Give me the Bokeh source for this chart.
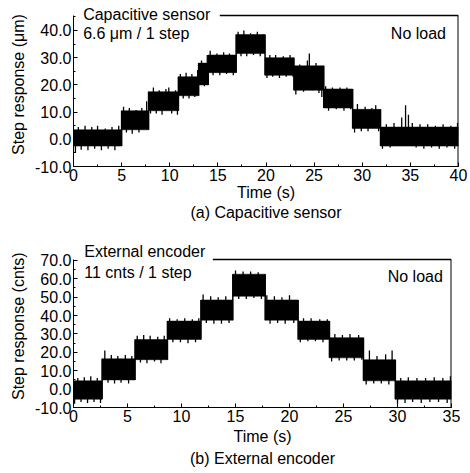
import numpy as np
from bokeh.plotting import figure
from bokeh.models import Label, Title, SingleIntervalTicker, PrintfTickFormatter, Range1d
from bokeh.layouts import column
from bokeh.embed import file_html
from bokeh.resources import INLINE

FONT = "Liberation Sans"

# ---------------- (a) Capacitive sensor ----------------
a_edges = [0, 5.0, 7.8, 10.9, 13.0, 14.0, 16.9, 19.9, 22.9, 26.0, 29.0, 31.9, 40]
a_lo = [-2.5, 3.5, 10.5, 16.0, 20.0, 24.5, 31.5, 23.5, 18.0, 11.5, 4.0, -2.5]
a_hi = [3.5, 10.5, 17.5, 23.0, 28.0, 31.0, 38.5, 30.0, 27.0, 18.5, 11.0, 4.5]
a_spike_t = [0.2, 0.5, 0.8, 1.2, 1.5, 1.9, 2.2, 2.5, 2.9, 3.3, 3.6, 4.0, 4.3, 4.7,
             5.2, 5.5, 5.8, 6.1, 6.5, 6.8, 7.1, 7.4, 7.6,
             8.0, 8.3, 8.6, 8.9, 9.2, 9.6, 9.9, 10.2, 10.6, 10.8,
             11.1, 11.4, 11.7, 12.0, 12.3, 12.6, 12.9, 13.3, 13.6, 13.9,
             14.2, 14.5, 14.9, 15.2, 15.6, 15.9, 16.2, 16.6,
             17.1, 17.4, 17.7, 18.0, 18.4, 18.7, 19.1, 19.4, 19.7,
             20.1, 20.4, 20.7, 21.0, 21.4, 21.8, 22.1, 22.5, 22.8,
             23.1, 23.5, 23.9, 24.3, 24.5, 24.8, 25.2, 25.5, 25.8,
             26.2, 26.5, 26.9, 27.3, 27.7, 28.1, 28.4, 28.8,
             29.2, 29.5, 29.9, 30.3, 30.6, 31.0, 31.4, 31.7,
             32.1, 32.5, 32.9, 33.3, 33.7, 34.1, 34.5, 34.8, 35.2, 35.6, 36.0, 36.4,
             36.8, 37.2, 37.6, 38.0, 38.4, 38.8, 39.2, 39.6, 39.9]
a_spike_y = [-5.0, 4.5, -3.8, 5.0, -4.0, 4.5, -3.5, 5.0, -4.0, 4.0, -3.5, 4.5, -4.0, 5.0,
             12.0, 2.5, 11.5, 2.0, 10.8, 2.5, 11.5, 4.0, 14.0,
             9.5, 19.0, 9.5, 18.0, 9.0, 18.5, 19.0, 9.5, 18.0, 9.0,
             24.0, 15.0, 24.5, 15.0, 24.0, 15.5, 25.5, 29.0, 19.5, 31.0,
             32.5, 23.5, 31.5, 23.5, 32.0, 24.0, 31.5, 23.5,
             39.5, 30.5, 40.0, 30.5, 39.0, 31.0, 39.5, 30.5, 38.5,
             22.5, 31.0, 23.0, 31.0, 22.5, 30.5, 23.0, 31.0, 23.0,
             16.5, 27.5, 17.5, 29.0, 31.5, 18.0, 28.0, 17.0, 15.5,
             19.5, 10.5, 19.0, 11.0, 19.0, 10.5, 19.0, 11.0,
             2.5, 13.0, 3.0, 12.0, 3.0, 11.5, 12.5, 3.0,
             -3.5, 5.5, -3.0, 6.0, -2.5, 8.0, 12.5, 9.0, 6.0, -3.0, 5.5, -3.5,
             5.5, -3.0, 5.0, -3.5, 5.5, -3.0, 5.0, -3.5, 6.0]

# ---------------- (b) External encoder ----------------
b_edges = [0, 2.65, 5.7, 8.7, 11.8, 14.75, 17.75, 20.8, 23.7, 26.85, 29.8, 35]
b_lo = [-5.5, 5.0, 16.0, 27.0, 37.5, 50.5, 37.5, 27.0, 17.0, 4.5, -5.5]
b_hi = [4.5, 16.5, 27.0, 37.0, 48.5, 62.5, 48.5, 37.0, 28.0, 16.0, 4.5]
b_spike_t = [0.1, 0.4, 0.7, 1.0, 1.3, 1.6, 1.9, 2.2, 2.5,
             2.9, 3.2, 3.5, 3.8, 4.1, 4.4, 4.8, 5.1, 5.4,
             5.9, 6.2, 6.5, 6.8, 7.1, 7.5, 7.8, 8.1, 8.4,
             8.9, 9.2, 9.6, 9.9, 10.3, 10.6, 11.0, 11.3, 11.6,
             12.0, 12.3, 12.7, 13.0, 13.4, 13.7, 14.1, 14.4,
             15.0, 15.3, 15.7, 16.0, 16.4, 16.7, 17.1, 17.4,
             17.9, 18.2, 18.6, 18.9, 19.3, 19.6, 20.0, 20.4,
             21.0, 21.3, 21.7, 22.0, 22.4, 22.8, 23.1, 23.5,
             23.9, 24.2, 24.6, 24.9, 25.3, 25.6, 26.0, 26.4, 26.7,
             27.1, 27.4, 27.8, 28.1, 28.5, 28.9, 29.2, 29.5,
             30.0, 30.3, 30.7, 31.0, 31.4, 31.8, 32.2, 32.6, 33.0, 33.4, 33.8, 34.2, 34.6, 34.9]
b_spike_y = [-8.0, 6.0, -7.0, 6.5, -7.5, 7.0, -7.0, 6.0, -7.5,
             21.0, 3.5, 18.5, 3.0, 18.0, 3.5, 18.5, 3.0, 18.0,
             29.0, 14.5, 29.5, 14.0, 29.0, 15.0, 28.5, 14.0, 29.0,
             38.5, 25.5, 38.0, 25.5, 38.5, 25.0, 38.0, 25.5, 38.5,
             51.5, 36.0, 50.5, 35.5, 50.0, 35.5, 50.5, 36.0,
             64.5, 49.0, 64.0, 49.0, 64.0, 49.5, 63.5, 49.0,
             51.0, 35.5, 50.5, 36.0, 50.0, 35.5, 51.0, 36.0,
             25.5, 38.5, 26.0, 38.5, 26.0, 38.0, 25.5, 38.0,
             15.0, 30.0, 15.5, 29.5, 15.5, 30.0, 15.5, 29.5, 16.0,
             2.5, 21.0, 3.0, 18.0, 3.0, 19.0, 2.5, 21.0,
             -8.0, 6.0, -7.5, 6.5, -7.0, 6.0, -7.5, 6.0, -7.0, 6.5, -7.0, 6.0, -7.5, 7.0]


def step_mid(edges, lo, hi, t):
    i = np.clip(np.searchsorted(edges, t, side="right") - 1, 0, len(lo) - 1)
    return (np.asarray(lo)[i] + np.asarray(hi)[i]) / 2.0


def panel(edges, lo, hi, st, sy, xr, yr, y_top, fw, fh, mbl, mbt, mbb, mbr, ylab, caption,
          name, per_step, pos, border_from, lab_standoff, cap_align):
    p = figure(frame_width=fw, frame_height=fh, output_backend="svg", toolbar_location=None,
               x_range=Range1d(*xr), y_range=Range1d(yr[0], y_top),
               min_border_left=mbl, min_border_top=mbt, min_border_bottom=mbb,
               min_border_right=mbr)
    p.grid.visible = False
    p.outline_line_color = None
    p.background_fill_color = "white"
    p.border_fill_color = "white"

    e = np.asarray(edges)
    p.quad(left=e[:-1], right=e[1:], bottom=lo, top=hi, color="black", line_width=0.5)
    tx = e[1:-1]
    ty0 = [min(lo[i], lo[i + 1]) for i in range(len(lo) - 1)]
    ty1 = [max(hi[i], hi[i + 1]) for i in range(len(lo) - 1)]
    p.segment(x0=tx, y0=ty0, x1=tx, y1=ty1, line_color="black", line_width=1.5)
    st = np.asarray(st)
    p.segment(x0=st, y0=step_mid(edges, lo, hi, st), x1=st, y1=sy,
              line_color="black", line_width=1.3)

    # box: right side and top line (top line starts after the title text)
    p.segment(x0=[xr[1], border_from], y0=[yr[0], yr[1]], x1=[xr[1], xr[1]], y1=[yr[1], yr[1]],
              line_color="black", line_width=[2, 1.3])

    for ax in (p.xaxis[0], p.yaxis[0]):
        ax.major_tick_in = 4
        ax.major_tick_out = 0
        ax.minor_tick_in = 2
        ax.minor_tick_out = 0
        ax.major_label_text_font = FONT
        ax.major_label_text_font_size = "16px"
        ax.axis_label_text_font = FONT
        ax.axis_label_text_font_size = "16px"
        ax.axis_label_text_font_style = "normal"
        ax.major_label_standoff = 2
        ax.axis_label_standoff = 1
        ax.axis_line_color = "black"
        ax.major_tick_line_color = "black"
        ax.minor_tick_line_color = "black"
        ax.major_label_text_color = "black"
        ax.axis_label_text_color = "black"
    p.yaxis[0].axis_label_standoff = 5
    p.yaxis[0].bounds = (yr[0], yr[1])
    p.xaxis[0].axis_label_standoff = lab_standoff
    p.xaxis.ticker = SingleIntervalTicker(interval=5, num_minor_ticks=2)
    p.yaxis.ticker = SingleIntervalTicker(interval=10, num_minor_ticks=2)
    p.yaxis.formatter = PrintfTickFormatter(format="%.1f")
    p.xaxis.axis_label = "Time (s)"
    p.yaxis.axis_label = ylab

    cap = Title(text=caption, align="center", text_font=FONT, text_font_size="16px",
                text_font_style="normal", text_color="black", standoff=0,
                offset=0, vertical_align=cap_align)
    p.add_layout(cap, "below")

    p.add_layout(Label(x=pos[0], y=pos[1], text=name, text_font=FONT,
                       text_font_size="16px", text_baseline="middle", text_color="black"))
    p.add_layout(Label(x=pos[0], y=pos[2], text=per_step, text_font=FONT,
                       text_font_size="16px", text_baseline="middle", text_color="black"))
    p.add_layout(Label(x=pos[3], y=pos[4], text="No load", text_font=FONT,
                       text_font_size="16px", text_baseline="middle", text_align="right",
                       text_color="black"))
    return p


p1 = panel(a_edges, a_lo, a_hi, a_spike_t, a_spike_y, (0, 40), (-10, 45.5), 50.28,
           385, 164, 70, 2, 59, 12, "Step response (\u03bcm)", "(a) Capacitive sensor",
           "Capacitive sensor", "6.6 \u03bcm / 1 step", (1.0, 45.9, 38.9, 38.7, 38.9),
           15.2, 0, "top")
p2 = panel(b_edges, b_lo, b_hi, b_spike_t, b_spike_y, (0, 35), (-10, 70.5), 80.83,
           378, 167, 73, 15, 64, 16, "Step response  (cnts)", "(b) External encoder",
           "External encoder", "11 cnts / 1 step", (1.0, 74.85, 63.5, 34.2, 61.3),
           12.9, 3, "bottom")

layout = column(p1, p2, spacing=0)
open("out.html", "w").write(file_html(layout, INLINE))
